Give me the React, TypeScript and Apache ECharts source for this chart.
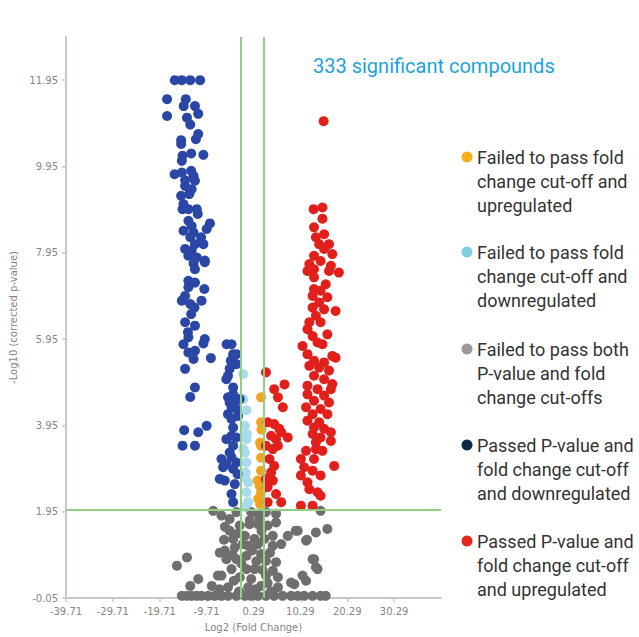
import React, { useEffect, useRef } from "react";
import * as echarts from "echarts";

// Tick labels (real values)
const xTickLabels = ["-39.71", "-29.71", "-19.71", "-9.71", "0.29", "10.29", "20.29", "30.29"];
const yTickLabels = ["-0.05", "1.95", "3.95", "5.95", "7.95", "9.95", "11.95"];

const X_MIN = -39.71;
const X_MAX = 40.29;
const Y_MIN = -0.05;
const Y_MAX = 12.95;

const foldCutoffs = [-2.48, 2.4];
const pCutoff = 2.0;

const blueTop: number[][] = [
  [-16.5, 11.95], [-15.0, 11.95], [-13.2, 11.95], [-11.1, 11.95],
  [-18.15, 11.51], [-14.15, 11.51], [-12.2, 11.35], [-14.6, 11.35], [-11.5, 11.17], [-18.15, 11.12],
  [-13.9, 11.08], [-13.2, 10.92], [-11.5, 10.7], [-12.0, 10.58], [-15.15, 10.56], [-15.15, 10.47],
  [-13.0, 10.25], [-10.4, 10.22], [-14.85, 10.2], [-15.0, 10.08], [-16.55, 9.77], [-15.0, 9.81],
  [-13.0, 9.85], [-12.5, 9.73], [-14.3, 9.63], [-12.2, 9.62], [-14.3, 9.5], [-12.9, 9.42],
  [-15.15, 9.27], [-13.4, 9.31], [-14.65, 9.08], [-14.85, 8.96], [-13.6, 8.96], [-11.8, 8.96],
  [-11.6, 8.85], [-13.6, 8.69], [-12.9, 8.57], [-9.0, 8.63], [-9.7, 8.5], [-14.65, 8.46],
  [-12.5, 8.42], [-13.2, 8.31], [-10.9, 8.31], [-12.2, 8.15], [-10.4, 8.15], [-14.3, 8.04],
  [-12.9, 8.0], [-13.6, 7.88], [-11.8, 7.84], [-10.1, 7.77],
];
const blueLow: number[][] = [
  [-12.5, 7.7], [-10.1, 7.73], [-12.2, 7.57], [-13.6, 7.3], [-12.2, 7.26], [-13.6, 7.15], [-10.2, 7.11],
  [-14.3, 6.95], [-15.0, 6.84], [-10.8, 6.84], [-13.2, 6.76], [-12.3, 6.68], [-13.0, 6.53], [-14.3, 6.34],
  [-12.2, 6.26], [-13.7, 6.11], [-13.6, 5.99], [-14.65, 5.83], [-10.4, 5.85], [-10.1, 5.95], [-12.2, 5.68],
  [-13.6, 5.64], [-12.5, 5.49], [-8.8, 5.51], [-14.3, 5.26], [-12.2, 4.83], [-13.2, 4.61], [-9.7, 3.94],
  [-14.5, 3.84], [-11.5, 3.79], [-14.85, 3.48], [-12.2, 3.48],
];
const blueInner: number[][] = [
  [-5.45, 5.83], [-4.4, 5.83], [-4.05, 5.6], [-3.35, 5.6], [-4.55, 5.45], [-3.35, 5.37], [-4.8, 5.26],
  [-5.15, 5.1], [-5.5, 5.02], [-4.05, 4.83], [-4.05, 4.67], [-5.15, 4.6], [-4.8, 4.48], [-3.35, 4.52],
  [-2.65, 4.56], [-4.4, 4.37], [-3.35, 4.33], [-5.15, 4.21], [-4.4, 4.1], [-3.0, 4.17], [-4.05, 3.9],
  [-4.4, 3.71], [-5.5, 3.63], [-3.35, 3.67], [-4.05, 3.48], [-4.8, 3.32], [-6.55, 3.17], [-4.4, 3.21],
  [-5.5, 3.05], [-3.35, 3.09], [-6.2, 2.98], [-4.05, 2.94], [-3.1, 2.82], [-6.9, 2.71], [-5.85, 2.67],
  [-3.7, 2.59], [-4.4, 2.36], [-4.05, 2.17],
];
const redInner: number[][] = [
  [2.95, 5.18], [4.7, 4.79], [6.9, 4.9], [5.5, 4.6], [6.55, 4.37], [3.3, 4.02], [4.7, 3.98], [5.8, 3.87],
  [4.05, 3.71], [5.1, 3.63], [6.2, 3.79], [7.6, 3.67], [2.95, 3.48], [4.4, 3.4], [5.5, 3.48], [3.7, 3.17],
  [4.7, 3.01], [4.05, 2.86], [2.95, 2.71], [4.4, 2.67], [3.3, 2.52], [3.3, 2.17], [6.2, 2.17], [5.1, 2.36],
];
const redMain: number[][] = [
  [15.25, 11.0], [13.1, 8.96], [15.0, 9.0], [15.0, 8.74], [13.2, 8.54], [15.35, 8.38], [13.6, 8.31],
  [14.3, 8.15], [16.4, 8.15], [15.35, 8.04], [17.1, 7.92], [13.2, 7.88], [14.6, 7.76], [12.2, 7.69],
  [16.8, 7.65], [13.2, 7.57], [16.4, 7.53], [18.5, 7.49], [11.8, 7.53], [13.2, 7.38], [15.7, 7.22],
  [13.2, 7.11], [14.6, 7.07], [12.9, 6.95], [16.05, 6.92], [14.3, 6.8], [12.9, 6.68], [17.8, 6.6],
  [15.35, 6.64], [13.6, 6.49], [12.2, 6.34], [14.6, 6.34], [11.8, 6.18], [16.05, 6.06], [12.9, 6.02],
  [10.75, 5.79], [13.95, 5.87], [15.0, 5.83], [11.8, 5.6], [17.1, 5.56], [17.8, 5.52], [13.2, 5.45],
  [15.35, 5.41], [12.2, 5.33], [14.3, 5.29], [16.4, 5.22], [13.2, 5.1], [15.35, 5.02], [17.1, 4.91],
  [11.8, 4.87], [13.95, 4.79], [16.8, 4.79], [11.8, 4.67], [15.35, 4.64], [13.2, 4.52], [16.4, 4.48],
  [11.5, 4.37], [14.6, 4.33], [12.9, 4.21], [16.05, 4.21], [11.8, 4.06], [14.3, 4.02], [13.2, 3.9],
  [15.35, 3.87], [16.8, 3.79], [12.9, 3.75], [14.6, 3.67], [16.8, 3.59], [13.6, 3.56], [11.5, 3.36],
  [13.6, 3.4], [15.0, 3.36], [10.4, 3.17], [13.2, 3.17], [11.1, 2.98], [17.5, 3.01], [12.9, 2.9],
  [10.4, 2.79], [14.6, 2.79], [11.8, 2.63], [12.2, 2.47], [13.95, 2.4], [14.6, 2.32], [10.4, 2.09],
  [12.9, 2.09],
];
const lightBluePts: number[][] = [
  [-1.9, 5.14], [-1.9, 4.56], [-1.2, 4.3], [-1.55, 3.94], [-1.2, 3.63], [-1.9, 3.4], [-1.55, 3.32],
  [-1.2, 3.09], [-1.35, 2.86], [-0.85, 2.63], [-1.2, 2.4], [-0.85, 2.17], [-1.55, 2.06], [-1.6, 2.75],
  [-1.1, 3.75],
];
const orangePts: number[][] = [
  [1.9, 4.6], [1.9, 4.02], [1.7, 3.55], [1.9, 3.48], [1.9, 3.2], [1.2, 2.67], [1.6, 2.55], [1.9, 2.4],
  [1.3, 2.25], [1.7, 2.13], [1.9, 2.9], [2.0, 3.85],
];
const grayPts: number[][] = [
  [-8.3, 1.97], [-6.55, 1.86], [-4.8, 1.78], [-3.35, 1.94], [-0.2, 1.94], [1.25, 1.9], [2.95, 1.94],
  [5.1, 1.9], [14.6, 1.97], [-4.8, 1.51], [-2.65, 1.63], [-0.55, 1.66], [1.25, 1.66], [3.3, 1.63],
  [5.1, 1.7], [-4.05, 1.32], [-1.55, 1.39], [0.5, 1.32], [2.6, 1.32], [4.4, 1.39], [7.6, 1.39],
  [9.7, 1.51], [13.6, 1.47], [16.05, 1.55], [11.5, 1.28], [-3.7, 1.12], [-0.85, 1.16], [1.25, 1.2],
  [4.4, 1.16], [6.2, 1.2], [-5.85, 1.05], [-5.5, 0.85], [-3.35, 0.85], [-1.2, 0.93], [1.9, 0.97],
  [2.95, 0.81], [5.1, 0.78], [-4.4, 0.62], [-1.2, 0.62], [0.5, 0.62], [4.4, 0.58], [13.2, 0.85],
  [13.95, 0.62], [-13.9, 0.89], [-16.05, 0.7], [-6.55, 0.47], [-2.65, 0.43], [-0.2, 0.39], [2.95, 0.47],
  [5.5, 0.43], [10.75, 0.47], [11.5, 0.35], [-11.5, 0.39], [-13.2, 0.23], [-8.6, 0.23], [-5.15, 0.2],
  [-0.85, 0.2], [1.9, 0.23], [5.5, 0.2], [9.0, 0.27], [8.3, 0.31],
  [-15.0, 0.0], [-13.9, 0.0], [-12.9, 0.0], [-11.8, 0.0], [-10.8, 0.0], [-9.4, 0.0], [-8.0, 0.0],
  [-6.55, 0.0], [-5.15, 0.0], [-3.35, 0.0], [-1.55, 0.0], [-0.2, 0.0], [1.25, 0.0], [2.95, 0.0],
  [4.7, 0.0], [6.5, 0.0], [8.3, 0.0], [9.7, 0.0], [11.1, 0.0], [12.9, 0.0], [14.6, 0.0], [15.7, 0.0],
  [-6.9, 1.0], [-7.3, 0.47], [9.3, 1.51], [11.7, 1.3], [-5.8, 1.6], [-3.0, 1.45], [-2.0, 1.2],
  [0.0, 1.05], [2.0, 1.5], [3.8, 1.0], [-4.2, 0.95], [-2.3, 0.75], [0.9, 0.8], [3.3, 0.3], [-3.9, 0.35],
  [-0.5, 1.75], [1.6, 1.8], [-6.0, 1.3], [-2.8, 0.1], [0.7, 0.15], [4.0, 0.1], [-7.0, 0.15], [2.2, 0.6],
  [12.9, 0.85], [13.6, 0.66],
];

const legendItems = [
  { color: "#f7b01b", text: "Failed to pass fold\nchange cut-off and\nupregulated", y: 157 },
  { color: "#7fcfe2", text: "Failed to pass fold\nchange cut-off and\ndownregulated", y: 252 },
  { color: "#999999", text: "Failed to pass both\nP-value and fold\nchange cut-offs", y: 349 },
  { color: "#0c2b4b", text: "Passed P-value and\nfold change cut-off\nand downregulated", y: 445 },
  { color: "#e3281c", text: "Passed P-value and\nfold change cut-off\nand upregulated", y: 541 },
];

const shift = (pts: number[][]) => pts.map(([x, y]) => [x - X_MIN, y - Y_MIN]);

export default function App() {
  const ref = useRef<HTMLDivElement>(null);
  useEffect(() => {
    if (!ref.current) return;
    const chart = echarts.init(ref.current, null, { renderer: "svg" });
    const tickFont = { fontFamily: "DejaVu Sans", fontSize: 10, color: "#858585" };
    const axisColor = "#cfc6c3";
    const sym = 10;
    const mk = (name: string, data: number[][], color: string) => ({
      name,
      type: "scatter",
      data: shift(data),
      symbol: "circle",
      symbolSize: sym,
      itemStyle: { color, opacity: 1 },
      silent: true,
    });
    const option: any = {
      animation: false,
      backgroundColor: "#ffffff",
      grid: { left: 63, right: 198, top: 37, bottom: 38, containLabel: false },
      xAxis: {
        type: "value",
        min: 0,
        max: X_MAX - X_MIN,
        interval: 10,
        splitLine: { show: false },
        axisLine: { show: true, lineStyle: { color: axisColor, width: 2 } },
        axisTick: { show: true, length: 4, lineStyle: { color: axisColor, width: 1.5 }, customValues: [0, 10, 20, 30, 40, 50, 60, 70] },
        axisLabel: {
          ...tickFont,
          margin: 8,
          customValues: [0, 10, 20, 30, 40, 50, 60, 70],
          formatter: (v: number) => xTickLabels[Math.round(v / 10)] ?? "",
        },
        name: "Log2 (Fold Change)",
        nameLocation: "middle",
        nameGap: 24,
        nameTextStyle: { fontFamily: "DejaVu Sans", fontSize: 10, color: "#858585" },
      },
      yAxis: {
        type: "value",
        min: 0,
        max: Y_MAX - Y_MIN,
        interval: 2,
        splitLine: { show: false },
        axisLine: { show: true, lineStyle: { color: axisColor, width: 2 } },
        axisTick: { show: true, length: 4, lineStyle: { color: axisColor, width: 1.5 }, customValues: [0, 2, 4, 6, 8, 10, 12] },
        axisLabel: {
          ...tickFont,
          margin: 8,
          customValues: [0, 2, 4, 6, 8, 10, 12],
          formatter: (v: number) => yTickLabels[Math.round(v / 2)] ?? "",
        },
        name: "-Log10 (corrected p-value)",
        nameLocation: "middle",
        nameGap: 48,
        nameTextStyle: { fontFamily: "DejaVu Sans", fontSize: 10, color: "#858585" },
      },
      series: [
        mk("gray", grayPts, "#6f6f6f"),
        mk("lightblue", lightBluePts, "#a9dcea"),
        mk("orange", orangePts, "#f2a51c"),
        mk("blueTop", blueTop, "#2b47a6"),
        mk("blueLow", blueLow, "#2b47a6"),
        mk("blueInner", blueInner, "#2b47a6"),
        mk("redInner", redInner, "#e2201b"),
        mk("redMain", redMain, "#e2201b"),
        {
          type: "scatter",
          data: [],
          silent: true,
          z: 10,
          markLine: {
            silent: true,
            symbol: "none",
            label: { show: false },
            lineStyle: { color: "#92cf84", width: 2, type: "solid" },
            data: [
              { xAxis: foldCutoffs[0] - X_MIN },
              { xAxis: foldCutoffs[1] - X_MIN },
              { yAxis: pCutoff - Y_MIN },
            ],
          },
        },
      ],
      graphic: [
        {
          type: "text",
          x: 313,
          y: 56,
          style: {
            text: "333 significant compounds",
            fill: "#1ea2dd",
            font: "20px Roboto",
            verticalAlign: "top",
          },
        },
        ...legendItems.flatMap((it) => [
          {
            type: "circle",
            shape: { cx: 467, cy: it.y, r: 5.5 },
            style: { fill: it.color },
          },
          {
            type: "text",
            x: 477,
            y: it.y - 12,
            style: {
              text: it.text,
              fill: "#333333",
              font: "18px Roboto",
              lineHeight: 24,
              verticalAlign: "top",
            },
          },
        ]),
      ],
    };
    chart.setOption(option);
    return () => chart.dispose();
  }, []);
  return <div ref={ref} style={{ width: 639, height: 637, position: "absolute", left: 0, top: 0 }} />;
}
